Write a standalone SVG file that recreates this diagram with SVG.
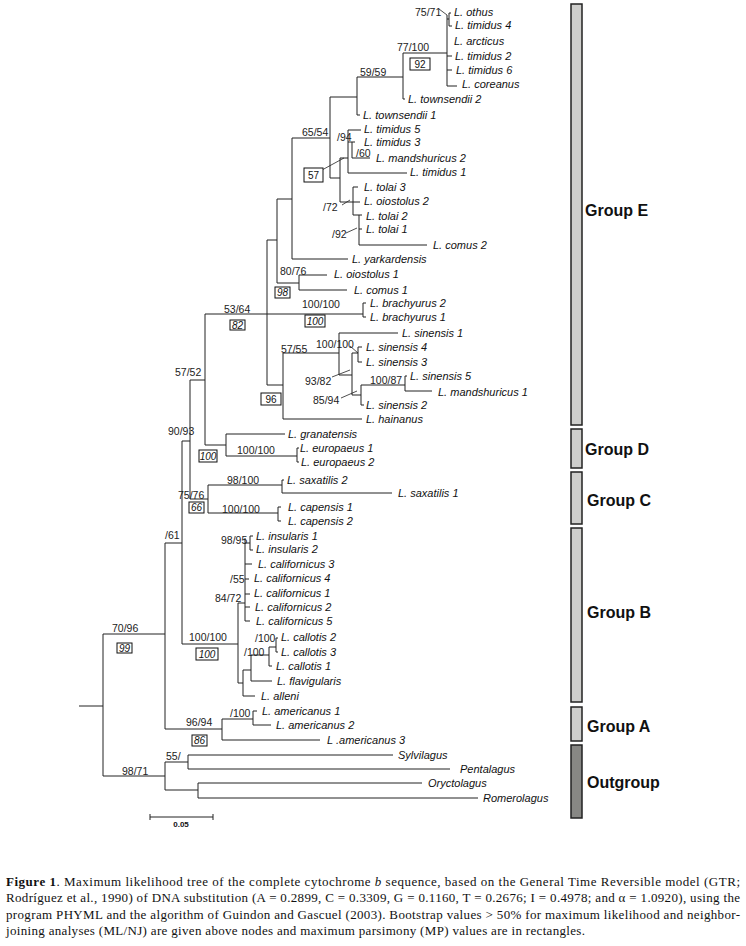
<svg xmlns="http://www.w3.org/2000/svg" width="746" height="946" viewBox="0 0 746 946">
<style>
.br{stroke:#222;stroke-width:1;fill:none}
.ld{stroke:#222;stroke-width:0.8;fill:none}
.lf{font-family:"Liberation Sans",Arial,sans-serif;font-size:11px;font-style:italic;fill:#111}
.sp{font-family:"Liberation Sans",Arial,sans-serif;font-size:10.5px;fill:#222}
.bx rect{fill:#fff;stroke:#111;stroke-width:1}
.bx text{font-family:"Liberation Sans",Arial,sans-serif;font-size:10px;text-anchor:middle;fill:#111}
.it{font-style:italic}
.grp rect{fill:#cececc;stroke:#222;stroke-width:1.5}
.grp text{font-family:"Liberation Sans",Arial,sans-serif;font-size:16px;font-weight:bold;fill:#111}
.cap{font-family:"Liberation Serif","Times New Roman",serif;font-size:13px;fill:#111}
</style>
<rect width="746" height="946" fill="#fff"/>

<g id="connectors">
<path class="br" d="M79 706H103M103 634V776M103 634H165M103 776H165
M165 762V790M165 762H188M188 755V769M188 755H393M188 769H450M165 790H198M198 783V798M198 783H422M198 798H478
M165 543V729M165 729H222M222 719V740M222 719H253M253 711V725M253 711H257M253 725H271M222 740H320
M165 543H182M182 441V644M182 644H238M182 441H190M190 380V499
M190 499H208M208 485V513M208 485H282M282 480V493M282 480H284M282 493H392M208 513H278M278 507V521M278 507H281M278 521H281
M190 380H205M205 314V445M205 445H226M226 434V456M226 434H285M226 456H297M297 448V462M297 448H299M297 462H299
M205 314H363M363 303V317M363 303H366M363 317H366
M267 240V385M267 240H277M267 385H283
M283 353V419M283 419H362M283 353H339M339 333V375M339 333H398M339 375H352M352 353V395M352 353H358M358 347V362M358 347H362M358 362H362
M352 395H361M361 385V405M361 385H405M361 405H364M405 376V391M405 376H407M405 391H432
M277 199V283M277 283H299M299 275V290M299 275H327M299 290H347
M277 199H292M292 138V259M292 259H348M292 138H330M330 97V178
M330 97H357M357 77V115M357 115H360M357 77H403M403 53V99M403 99H405M403 53H447
M447 15V86M447 19H449M449 13V26M449 13H451M449 26H452M447 56H452M447 70H452M447 86H457
M330 178H340M340 158V202M340 158H348M348 130V173M348 130H361M348 173H407M348 142H352M352 142V158M352 142H355M352 158H370
M340 202H360M353 187V215M353 187H358M353 215H362M359 215V245M359 229H362M359 245H427
M238 603V683M238 603H245M245 538V621M245 543H250M250 536V550M250 536H253M250 550H253
M245 564H252M245 579H249M245 594H250M245 607H250M245 621H250
M238 683H243M243 670V696M243 696H255M243 670H251M251 655V681M251 681H272M251 655H269M269 647V666M269 666H272M269 647H276M276 638V652M276 638H278M276 652H278"/>
<path class="ld" d="M439 9L447 15M322 170L344 158M332 377L350 370M341 398L357 391M350 346L358 353M342 205L350 200M346 233L357 228"/>
<path class="br" d="M150 817H213M150 814V820M213 814V820"/>
</g>

<g id="leaves">
<g id="n-othus"><text class="lf" x="454" y="16">L. othus</text></g>
<g id="n-timidus4"><text class="lf" x="455" y="29">L. timidus 4</text></g>
<g id="n-arcticus"><text class="lf" x="454" y="45">L. arcticus</text></g>
<g id="n-timidus2"><text class="lf" x="455" y="60">L. timidus 2</text></g>
<g id="n-timidus6"><text class="lf" x="456" y="74">L. timidus 6</text></g>
<g id="n-coreanus"><text class="lf" x="462" y="88">L. coreanus</text></g>
<g id="n-townsendii2"><text class="lf" x="408" y="103">L. townsendii 2</text></g>
<g id="n-townsendii1"><text class="lf" x="363" y="119">L. townsendii 1</text></g>
<g id="n-timidus5"><text class="lf" x="364" y="133">L. timidus 5</text></g>
<g id="n-timidus3"><text class="lf" x="364" y="146">L. timidus 3</text></g>
<g id="n-mandshuricus2"><text class="lf" x="376" y="162">L. mandshuricus 2</text></g>
<g id="n-timidus1"><text class="lf" x="410" y="176">L. timidus 1</text></g>
<g id="n-tolai3"><text class="lf" x="364" y="191">L. tolai 3</text></g>
<g id="n-oiostolus2"><text class="lf" x="364" y="205">L. oiostolus 2</text></g>
<g id="n-tolai2"><text class="lf" x="366" y="220">L. tolai 2</text></g>
<g id="n-tolai1"><text class="lf" x="366" y="233">L. tolai 1</text></g>
<g id="n-comus2"><text class="lf" x="433" y="249">L. comus 2</text></g>
<g id="n-yarkardensis"><text class="lf" x="352" y="263">L. yarkardensis</text></g>
<g id="n-oiostolus1"><text class="lf" x="334" y="278">L. oiostolus 1</text></g>
<g id="n-comus1"><text class="lf" x="354" y="294">L. comus 1</text></g>
<g id="n-brachyurus2"><text class="lf" x="370" y="307">L. brachyurus 2</text></g>
<g id="n-brachyurus1"><text class="lf" x="370" y="321">L. brachyurus 1</text></g>
<g id="n-sinensis1"><text class="lf" x="402" y="337">L. sinensis 1</text></g>
<g id="n-sinensis4"><text class="lf" x="366" y="351">L. sinensis 4</text></g>
<g id="n-sinensis3"><text class="lf" x="366" y="366">L. sinensis 3</text></g>
<g id="n-sinensis5"><text class="lf" x="410" y="380">L. sinensis 5</text></g>
<g id="n-mandshuricus1"><text class="lf" x="438" y="396">L. mandshuricus 1</text></g>
<g id="n-sinensis2"><text class="lf" x="366" y="409">L. sinensis 2</text></g>
<g id="n-hainanus"><text class="lf" x="366" y="423">L. hainanus</text></g>
<g id="n-granatensis"><text class="lf" x="288" y="438">L. granatensis</text></g>
<g id="n-europaeus1"><text class="lf" x="300" y="452">L. europaeus 1</text></g>
<g id="n-europaeus2"><text class="lf" x="301" y="466">L. europaeus 2</text></g>
<g id="n-saxatilis2"><text class="lf" x="287" y="484">L. saxatilis 2</text></g>
<g id="n-saxatilis1"><text class="lf" x="398" y="497">L. saxatilis 1</text></g>
<g id="n-capensis1"><text class="lf" x="288" y="511">L. capensis 1</text></g>
<g id="n-capensis2"><text class="lf" x="288" y="525">L. capensis 2</text></g>
<g id="n-insularis1"><text class="lf" x="256" y="540">L. insularis 1</text></g>
<g id="n-insularis2"><text class="lf" x="256" y="553">L. insularis 2</text></g>
<g id="n-californicus3"><text class="lf" x="258" y="568">L. californicus 3</text></g>
<g id="n-californicus4"><text class="lf" x="254" y="582">L. californicus 4</text></g>
<g id="n-californicus1"><text class="lf" x="254" y="597">L. californicus 1</text></g>
<g id="n-californicus2"><text class="lf" x="255" y="611">L. californicus 2</text></g>
<g id="n-californicus5"><text class="lf" x="256" y="625">L. californicus 5</text></g>
<g id="n-callotis2"><text class="lf" x="281" y="641">L. callotis 2</text></g>
<g id="n-callotis3"><text class="lf" x="281" y="656">L. callotis 3</text></g>
<g id="n-callotis1"><text class="lf" x="276" y="670">L. callotis 1</text></g>
<g id="n-flavigularis"><text class="lf" x="277" y="685">L. flavigularis</text></g>
<g id="n-alleni"><text class="lf" x="261" y="700">L. alleni</text></g>
<g id="n-americanus1"><text class="lf" x="262" y="715">L. americanus 1</text></g>
<g id="n-americanus2"><text class="lf" x="276" y="729">L. americanus 2</text></g>
<g id="n-americanus3"><text class="lf" x="327" y="744">L .americanus 3</text></g>
<g id="n-sylvilagus"><text class="lf" x="398" y="759">Sylvilagus</text></g>
<g id="n-pentalagus"><text class="lf" x="460" y="773">Pentalagus</text></g>
<g id="n-oryctolagus"><text class="lf" x="428" y="787">Oryctolagus</text></g>
<g id="n-romerolagus"><text class="lf" x="483" y="802">Romerolagus</text></g>
</g>

<g id="supports">
<g id="s1"><text class="sp" x="415" y="15.5">75/71</text></g>
<g id="s2"><text class="sp" x="397" y="50.5">77/100</text></g>
<g id="s3"><text class="sp" x="360" y="75.5">59/59</text></g>
<g id="s4"><text class="sp" x="302" y="135.5">65/54</text></g>
<g id="s5"><text class="sp" x="337" y="140.5">/94</text></g>
<g id="s6"><text class="sp" x="356" y="157">/60</text></g>
<g id="s7"><text class="sp" x="323" y="210.5">/72</text></g>
<g id="s8"><text class="sp" x="332" y="238">/92</text></g>
<g id="s9"><text class="sp" x="280" y="274.5">80/76</text></g>
<g id="s10"><text class="sp" x="224" y="313">53/64</text></g>
<g id="s11"><text class="sp" x="302" y="308">100/100</text></g>
<g id="s12"><text class="sp" x="281" y="353">57/55</text></g>
<g id="s13"><text class="sp" x="316" y="348">100/100</text></g>
<g id="s14"><text class="sp" x="305" y="385">93/82</text></g>
<g id="s15"><text class="sp" x="370" y="384">100/87</text></g>
<g id="s16"><text class="sp" x="313" y="404">85/94</text></g>
<g id="s17"><text class="sp" x="175" y="376">57/52</text></g>
<g id="s18"><text class="sp" x="168" y="435">90/93</text></g>
<g id="s19"><text class="sp" x="237" y="454">100/100</text></g>
<g id="s20"><text class="sp" x="227" y="484">98/100</text></g>
<g id="s21"><text class="sp" x="178" y="499">75/76</text></g>
<g id="s22"><text class="sp" x="222" y="513">100/100</text></g>
<g id="s23"><text class="sp" x="165" y="539">/61</text></g>
<g id="s24"><text class="sp" x="221" y="544">98/95</text></g>
<g id="s25"><text class="sp" x="230" y="583">/55</text></g>
<g id="s26"><text class="sp" x="215" y="601.5">84/72</text></g>
<g id="s27"><text class="sp" x="189" y="641">100/100</text></g>
<g id="s28"><text class="sp" x="255" y="642">/100</text></g>
<g id="s29"><text class="sp" x="244" y="655.5">/100</text></g>
<g id="s30"><text class="sp" x="112" y="632">70/96</text></g>
<g id="s31"><text class="sp" x="230" y="717">/100</text></g>
<g id="s32"><text class="sp" x="186" y="725.5">96/94</text></g>
<g id="s33"><text class="sp" x="166" y="760">55/</text></g>
<g id="s34"><text class="sp" x="122" y="774.5">98/71</text></g>
</g>

<g id="mp-boxes">
<g id="b92" class="bx"><rect x="410" y="58" width="20" height="12"/><text x="420" y="67.5">92</text></g>
<g id="b57" class="bx"><rect x="304" y="168" width="19" height="14"/><text x="313.5" y="178.5">57</text></g>
<g id="b98" class="bx"><rect x="275" y="287" width="15" height="11"/><text class="it" x="282.5" y="296">98</text></g>
<g id="b82" class="bx"><rect x="230" y="320" width="15" height="10"/><text class="it" x="237.5" y="328.5">82</text></g>
<g id="b100a" class="bx"><rect x="305" y="315" width="20" height="12"/><text class="it" x="315" y="324.5">100</text></g>
<g id="b96" class="bx"><rect x="261" y="393" width="20" height="12"/><text x="271" y="402.5">96</text></g>
<g id="b100b" class="bx"><rect x="199" y="450" width="18" height="12"/><text class="it" x="208" y="459.5">100</text></g>
<g id="b66" class="bx"><rect x="189" y="502" width="15" height="11"/><text class="it" x="196.5" y="511">66</text></g>
<g id="b100c" class="bx"><rect x="196" y="648" width="22" height="12"/><text class="it" x="207" y="657.5">100</text></g>
<g id="b86" class="bx"><rect x="192" y="735" width="15" height="11"/><text class="it" x="199.5" y="744">86</text></g>
<g id="b99" class="bx"><rect x="117" y="643" width="15" height="10"/><text class="it" x="124.5" y="651.5">99</text></g>
</g>

<g id="scale"><text x="181" y="827" font-family="Liberation Sans, Arial, sans-serif" font-size="8" font-weight="bold" text-anchor="middle" fill="#111">0.05</text></g>

<g id="groups">
<g id="gE" class="grp"><rect x="571" y="4" width="11" height="421"/><text x="585" y="216">Group E</text></g>
<g id="gD" class="grp"><rect x="571" y="429" width="11" height="39"/><text x="585" y="455">Group D</text></g>
<g id="gC" class="grp"><rect x="571" y="472" width="11" height="52"/><text x="587" y="506">Group C</text></g>
<g id="gB" class="grp"><rect x="571" y="528" width="11" height="174"/><text x="587" y="618">Group B</text></g>
<g id="gA" class="grp"><rect x="571" y="707" width="11" height="34"/><text x="587" y="732">Group A</text></g>
<g id="gO" class="grp"><rect x="571" y="745" width="11" height="73" style="fill:#878784"/><text x="587" y="788">Outgroup</text></g>
</g>

<g id="caption" class="cap">
<text x="6" y="886" textLength="734" lengthAdjust="spacing"><tspan font-weight="bold">Figure 1</tspan>. Maximum likelihood tree of the complete cytochrome <tspan font-style="italic">b</tspan> sequence, based on the General Time Reversible model (GTR;</text>
<text x="6" y="902" textLength="734" lengthAdjust="spacing">Rodríguez et al., 1990) of DNA substitution (A = 0.2899, C = 0.3309, G = 0.1160, T = 0.2676; I = 0.4978; and α = 1.0920), using the</text>
<text x="6" y="919" textLength="734" lengthAdjust="spacing">program PHYML and the algorithm of Guindon and Gascuel (2003).  Bootstrap values &gt; 50% for maximum likelihood and neighbor-</text>
<text x="6" y="935" textLength="579" lengthAdjust="spacing">joining analyses (ML/NJ) are given above nodes and maximum parsimony (MP) values are in rectangles.</text>
</g>
</svg>
